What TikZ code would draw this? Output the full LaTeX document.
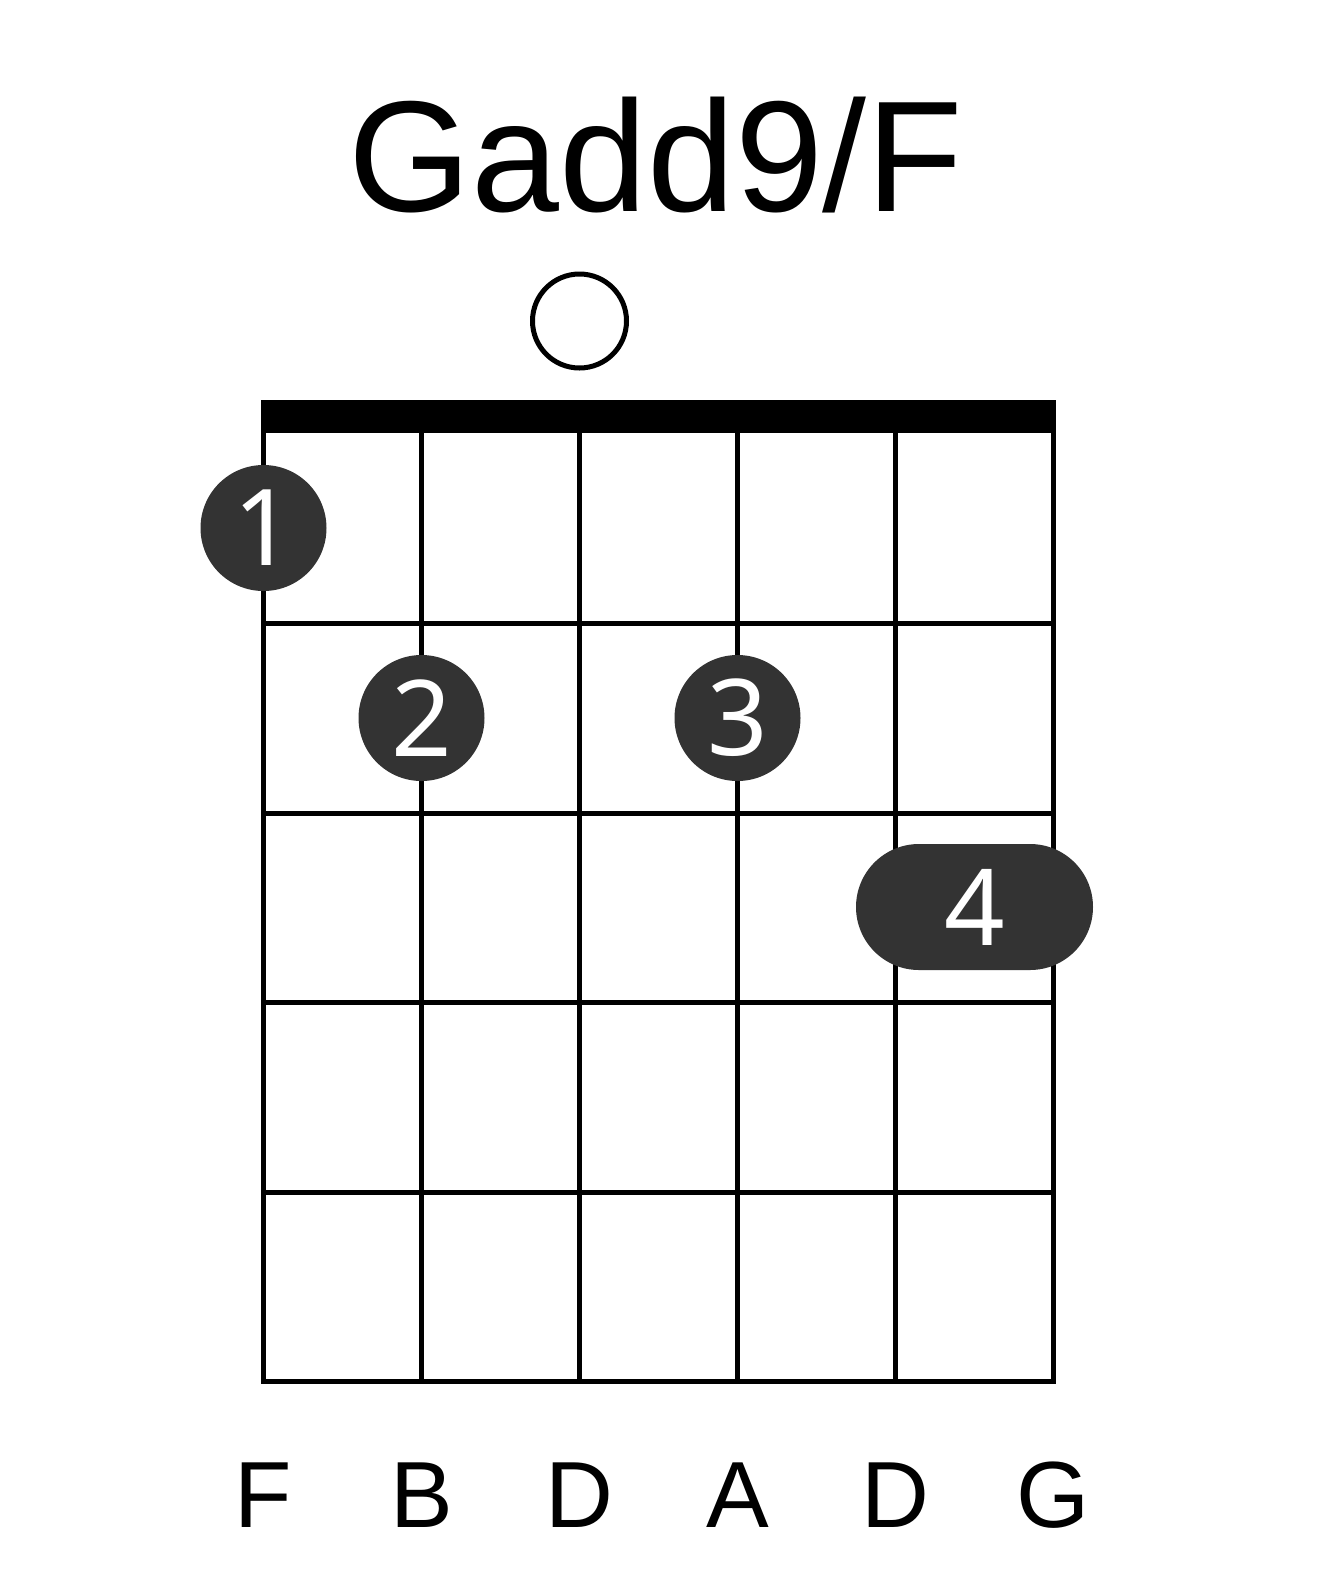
\documentclass[tikz,border=0pt]{standalone}
\usepackage{fontspec}
\setmainfont{Liberation Sans}
\newfontfamily\digitfont{Noto Sans}
\usetikzlibrary{shapes.misc}
\definecolor{dotgray}{HTML}{333333}

\begin{document}
\begin{tikzpicture}[x=0.5pt, y=-0.5pt,
  wire/.style={line width=2.5pt},
  finger/.style={circle, fill=dotgray, minimum size=63pt, inner sep=0pt, text=white, font=\digitfont\fontsize{53}{53}\selectfont},
  barre/.style={rounded rectangle, fill=dotgray, minimum width=118.5pt, minimum height=63pt, inner sep=0pt, text=white, font=\digitfont\fontsize{53}{53}\selectfont},
  openstr/.style={circle, draw, line width=2.5pt, minimum size=47pt, inner sep=0pt},
  strname/.style={anchor=base, inner sep=0pt, font=\fontsize{47}{47}\selectfont}]
  \useasboundingbox (0,0) rectangle (1317,1581);
  \node[anchor=base, inner sep=0pt, font=\fontsize{79}{79}\selectfont] (title) at (656,211) {Gadd9/F};
  \node[openstr] (open3) at (579.5,321) {};
  % nut
  \fill (261,400) rectangle (1056,433);
  % strings
  \draw[wire] (263.5,433) -- (263.5,1383.5);
  \draw[wire] (421.5,433) -- (421.5,1383.5);
  \draw[wire] (579.5,433) -- (579.5,1383.5);
  \draw[wire] (737.5,433) -- (737.5,1383.5);
  \draw[wire] (895.5,433) -- (895.5,1383.5);
  \draw[wire] (1053.5,433) -- (1053.5,1383.5);
  % frets
  \draw[wire] (261,623) -- (1056,623);
  \draw[wire] (261,813) -- (1056,813);
  \draw[wire] (261,1002) -- (1056,1002);
  \draw[wire] (261,1192) -- (1056,1192);
  \draw[wire] (261,1381) -- (1056,1381);
  % fingers
  \node[finger] (f1) at (263.5,528) {1};
  \node[finger] (f2) at (421.5,718) {2};
  \node[finger] (f3) at (737.5,718) {3};
  \node[barre] (f4) at (974.5,907) {4};
  % string names
  \node[strname] (s1) at (263.5,1527) {F};
  \node[strname] (s2) at (421.5,1527) {B};
  \node[strname] (s3) at (579.5,1527) {D};
  \node[strname] (s4) at (737.5,1527) {A};
  \node[strname] (s5) at (895.5,1527) {D};
  \node[strname] (s6) at (1053.5,1527) {G};
\end{tikzpicture}
\end{document}
